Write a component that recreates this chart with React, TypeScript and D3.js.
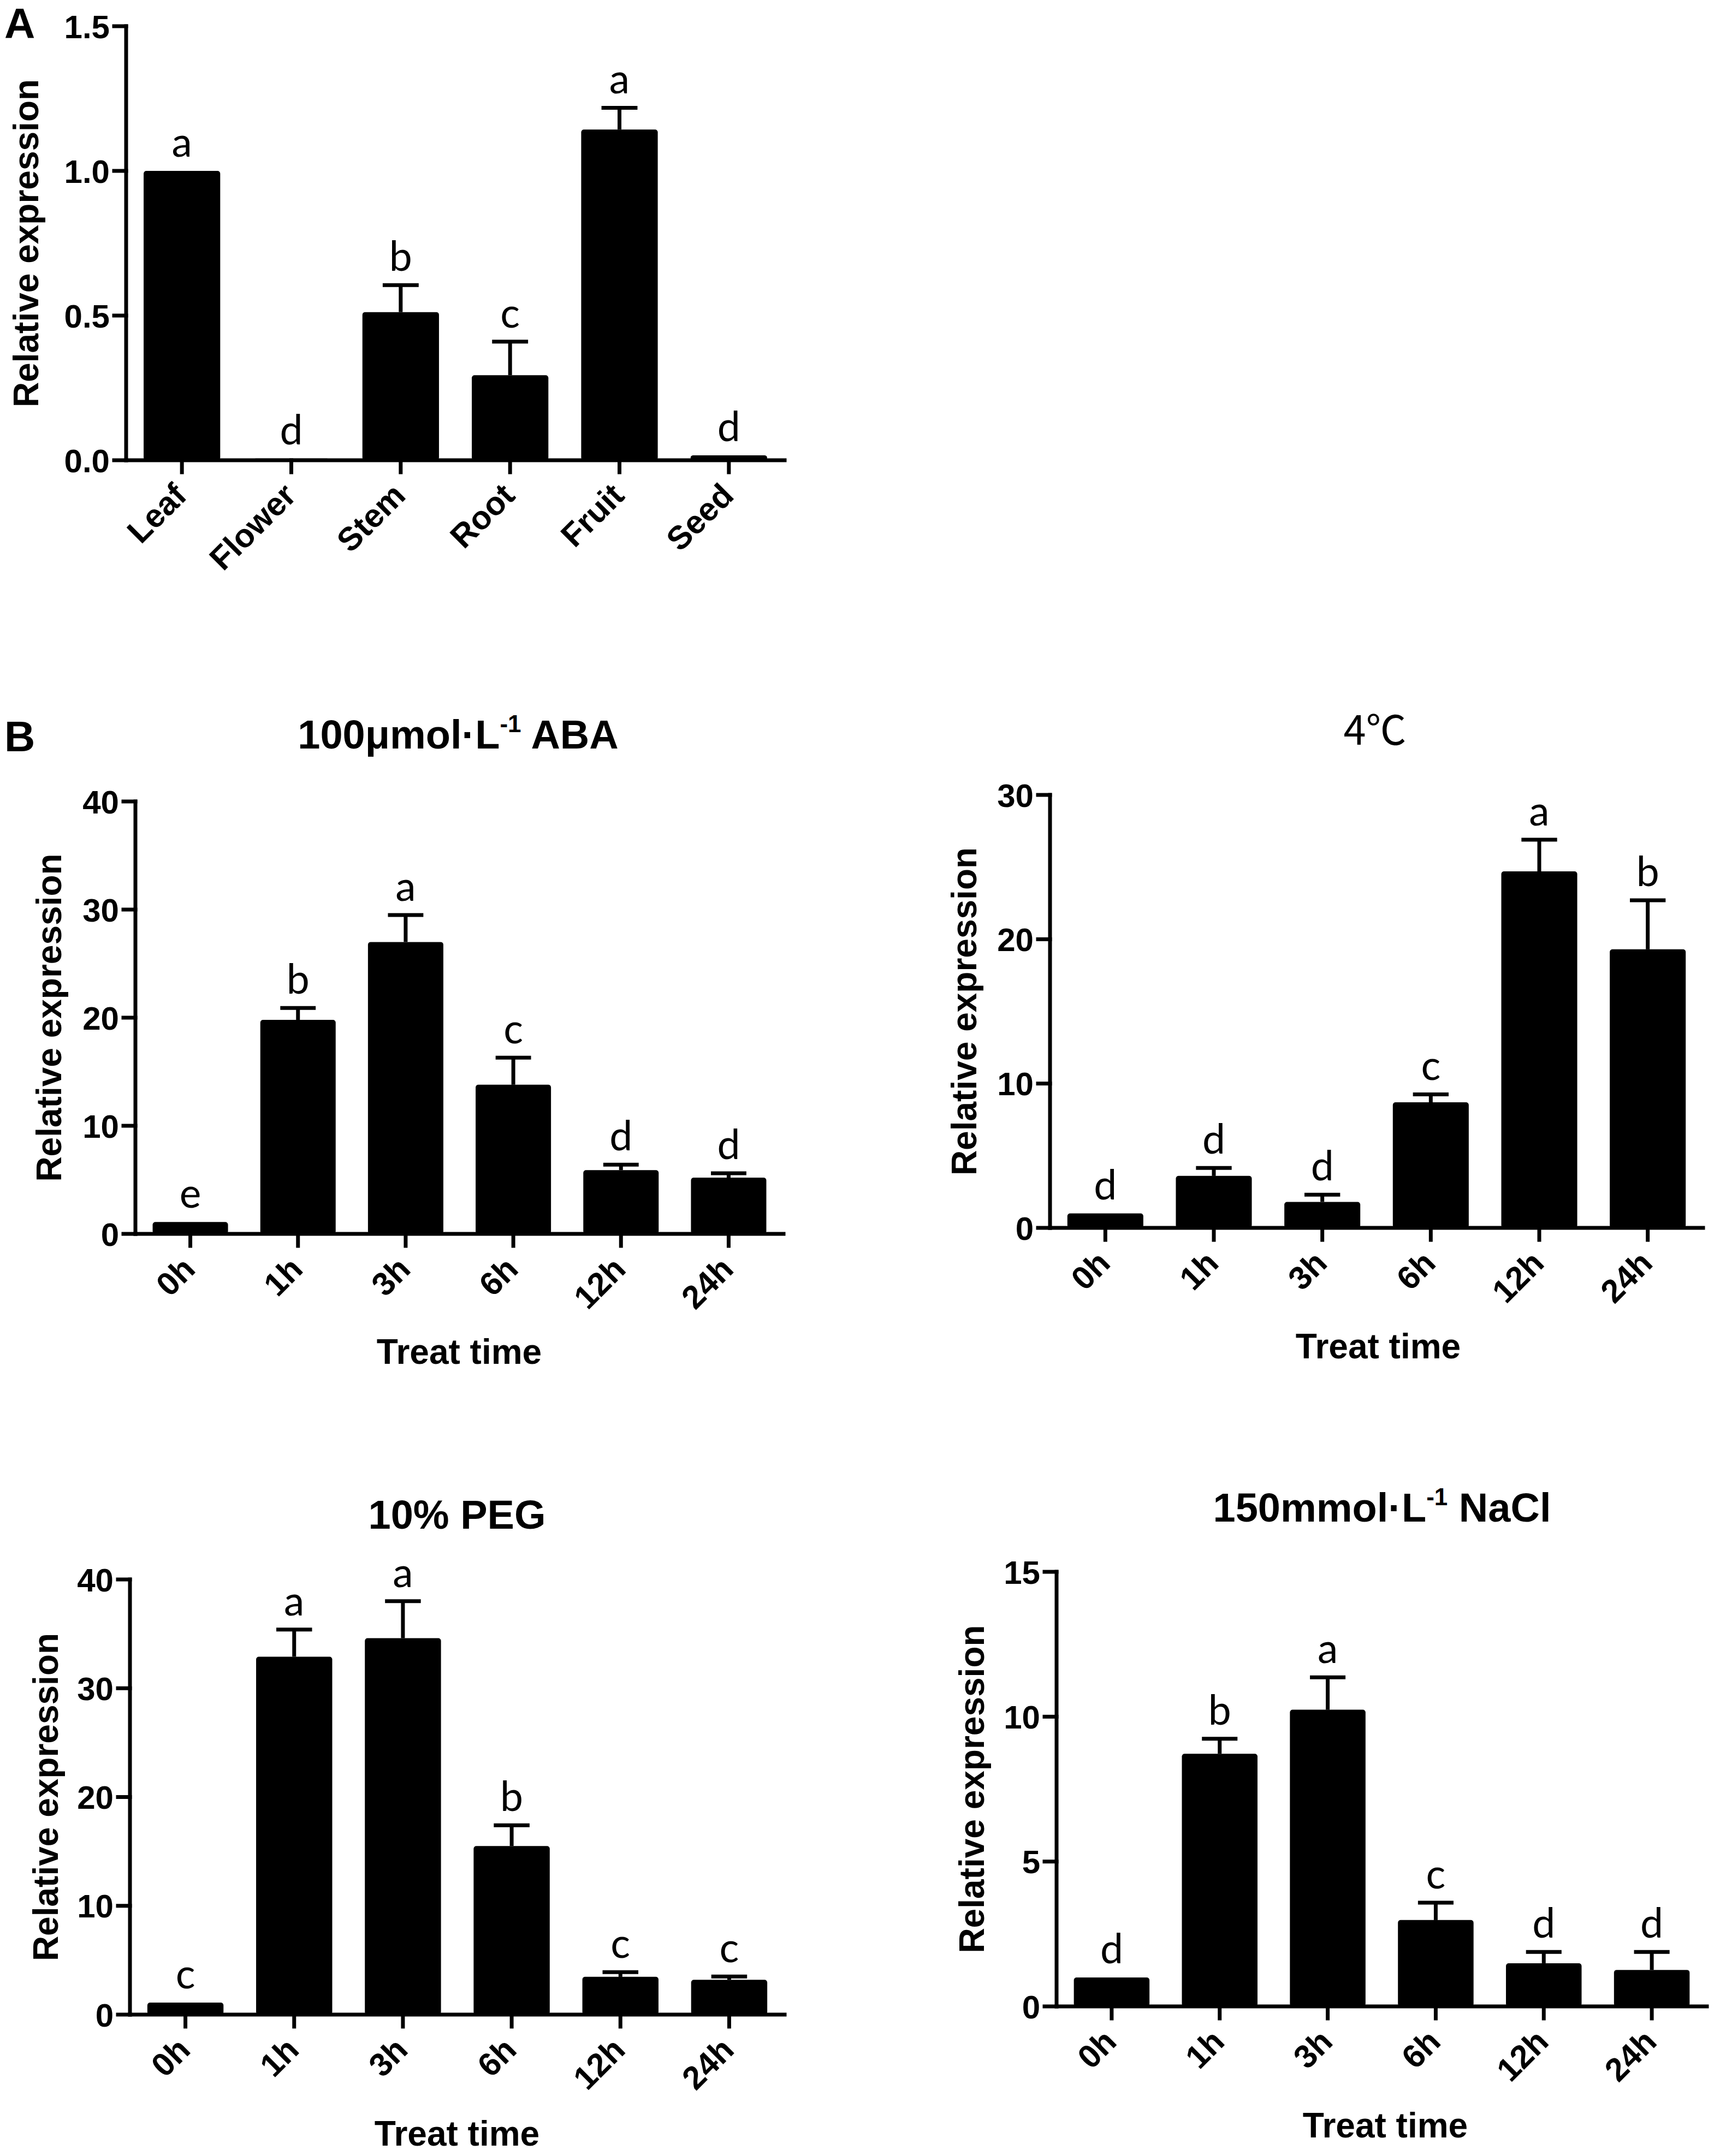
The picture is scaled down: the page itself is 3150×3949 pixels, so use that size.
import React from 'react';
import * as d3 from 'd3';

// Panel A: tissue expression
const tissues = ['Leaf', 'Flower', 'Stem', 'Root', 'Fruit', 'Seed'];
const tissueMean = [1.0, 0.006, 0.512, 0.294, 1.143, 0.017];
const tissueErr = [0, 0, 0.093, 0.116, 0.075, 0];
const tissueLetters = ['a', 'd', 'b', 'c', 'a', 'd'];
const tissueTicks = [0, 0.5, 1.0, 1.5];

// Panel B: treatment time courses
const times = ['0h', '1h', '3h', '6h', '12h', '24h'];

const abaMean = [1.1, 19.8, 27.0, 13.8, 5.9, 5.2];
const abaErr = [0, 1.1, 2.5, 2.5, 0.5, 0.4];
const abaLetters = ['e', 'b', 'a', 'c', 'd', 'd'];
const abaTicks = [0, 10, 20, 30, 40];

const coldMean = [1.0, 3.6, 1.8, 8.7, 24.7, 19.3];
const coldErr = [0, 0.55, 0.5, 0.55, 2.2, 3.4];
const coldLetters = ['d', 'd', 'd', 'c', 'a', 'b'];
const coldTicks = [0, 10, 20, 30];

const pegMean = [1.1, 32.9, 34.6, 15.5, 3.47, 3.2];
const pegErr = [0, 2.5, 3.4, 1.9, 0.43, 0.3];
const pegLetters = ['c', 'a', 'a', 'b', 'c', 'c'];
const pegTicks = [0, 10, 20, 30, 40];

const naclMean = [1.0, 8.72, 10.24, 2.98, 1.49, 1.26];
const naclErr = [0, 0.52, 1.12, 0.6, 0.39, 0.62];
const naclLetters = ['d', 'b', 'a', 'c', 'd', 'd'];
const naclTicks = [0, 5, 10, 15];

const ARIAL = '"Liberation Sans", Arial, sans-serif';
const LETTER_FONT = 'Lato, "Open Sans", sans-serif';
const SW = 7;

interface PanelProps {
  left: number;
  right: number;
  top: number;
  bottom: number;
  cats: string[];
  mean: number[];
  err: number[];
  letters: string[];
  ticks: number[];
  fmt: string;
  yLabelX: number;
  title?: React.ReactNode;
  titleX?: number;
  titleY?: number;
  xTitleX?: number;
  xTitleY?: number;
}

const Panel: React.FC<PanelProps> = (p) => {
  const x = d3.scaleBand<string>()
    .domain(p.cats)
    .range([p.left, p.right])
    .paddingInner(0.3)
    .paddingOuter(0.16);
  const y = d3.scaleLinear()
    .domain([0, p.ticks[p.ticks.length - 1]])
    .range([p.bottom, p.top]);
  const fmt = d3.format(p.fmt);
  const bw = x.bandwidth();
  const cap = bw * 0.47;

  return (
    <g>
      {/* bars */}
      {p.cats.map((c, i) => (
        <rect key={c} x={x(c)} y={y(p.mean[i])} width={bw}
          height={Math.max(y(0) - y(p.mean[i]), 0)} rx={5} fill="#000" />
      ))}
      {/* error bars, upper only */}
      {p.cats.map((c, i) => {
        if (!p.err[i]) return null;
        const cx = (x(c) as number) + bw / 2;
        const yt = y(p.mean[i] + p.err[i]);
        return (
          <g key={c} stroke="#000" strokeWidth={SW}>
            <line x1={cx} x2={cx} y1={y(p.mean[i])} y2={yt} />
            <line x1={cx - cap / 2} x2={cx + cap / 2} y1={yt} y2={yt} />
          </g>
        );
      })}
      {/* significance letters */}
      {p.cats.map((c, i) => (
        <text key={c} x={(x(c) as number) + bw / 2} y={y(p.mean[i] + p.err[i]) - 26}
          textAnchor="middle" fontFamily={LETTER_FONT} fontSize={75} fill="#000">
          {p.letters[i]}
        </text>
      ))}
      {/* axes */}
      <g stroke="#000" strokeWidth={SW} fill="none" strokeLinecap="square">
        <line x1={p.left} x2={p.left} y1={y(p.ticks[p.ticks.length - 1])} y2={p.bottom} />
        <line x1={p.left} x2={p.right} y1={p.bottom} y2={p.bottom} />
        {p.ticks.map((t) => (
          <line key={t} x1={p.left - 22} x2={p.left} y1={y(t)} y2={y(t)} />
        ))}
        {p.cats.map((c) => {
          const cx = (x(c) as number) + bw / 2;
          return <line key={c} x1={cx} x2={cx} y1={p.bottom} y2={p.bottom + 22} />;
        })}
      </g>
      {p.ticks.map((t) => (
        <text key={t} x={p.left - 30} y={y(t)} dy="0.36em" textAnchor="end"
          fontFamily={ARIAL} fontWeight="bold" fontSize={60} fill="#000">
          {fmt(t)}
        </text>
      ))}
      {p.cats.map((c) => {
        const cx = (x(c) as number) + bw / 2;
        return (
          <text key={c} transform={`translate(${cx + 12},${p.bottom + 68}) rotate(-45)`}
            textAnchor="end" fontFamily={ARIAL} fontWeight="bold" fontSize={60} fill="#000">
            {c}
          </text>
        );
      })}
      <text transform={`translate(${p.yLabelX},${(p.top + p.bottom) / 2}) rotate(-90)`}
        textAnchor="middle" fontFamily={ARIAL} fontWeight="bold" fontSize={64} fill="#000">
        Relative expression
      </text>
      {p.title && (
        <text x={p.titleX} y={p.titleY} textAnchor="middle" fontFamily={ARIAL}
          fontWeight="bold" fontSize={74} fill="#000">
          {p.title}
        </text>
      )}
      {p.xTitleY !== undefined && (
        <text x={p.xTitleX} y={p.xTitleY} textAnchor="middle" fontFamily={ARIAL}
          fontWeight="bold" fontSize={64} fill="#000">
          Treat time
        </text>
      )}
    </g>
  );
};

const perL = (pre: string, post: string) => (
  <>
    <tspan>{pre}</tspan>
    <tspan dy={-30} fontSize={44}>-1</tspan>
    <tspan dy={30}>{post}</tspan>
  </>
);

export default function App() {
  return (
    <svg width={3150} height={3949} viewBox="0 0 3150 3949"
      style={{ position: 'absolute', left: 0, top: 0, background: '#fff' }}>
      <rect width={3150} height={3949} fill="#fff" />
      <text x={8} y={70} fontFamily={ARIAL} fontWeight="bold" fontSize={78}>A</text>
      <text x={8} y={1376} fontFamily={ARIAL} fontWeight="bold" fontSize={78}>B</text>

      <Panel left={231} right={1437} top={48} bottom={843}
        cats={tissues} mean={tissueMean} err={tissueErr} letters={tissueLetters}
        ticks={tissueTicks} fmt=".1f" yLabelX={70} />

      <Panel left={248} right={1435} top={1468} bottom={2260}
        cats={times} mean={abaMean} err={abaErr} letters={abaLetters}
        ticks={abaTicks} fmt="d" yLabelX={112}
        title={perL('100μmol·L', ' ABA')} titleX={839} titleY={1371}
        xTitleX={841} xTitleY={2498} />

      <Panel left={1923} right={3119} top={1456} bottom={2249}
        cats={times} mean={coldMean} err={coldErr} letters={coldLetters}
        ticks={coldTicks} fmt="d" yLabelX={1788}
        xTitleX={2524} xTitleY={2488} />
      <text x={2518} y={1364} textAnchor="middle" fontFamily={'"Noto Sans CJK SC", sans-serif'}
        fontSize={74} fill="#000">4℃</text>

      <Panel left={238} right={1437} top={2893} bottom={3690}
        cats={times} mean={pegMean} err={pegErr} letters={pegLetters}
        ticks={pegTicks} fmt="d" yLabelX={106}
        title="10% PEG" titleX={837} titleY={2800}
        xTitleX={837} xTitleY={3930} />

      <Panel left={1935} right={3126} top={2879} bottom={3675}
        cats={times} mean={naclMean} err={naclErr} letters={naclLetters}
        ticks={naclTicks} fmt="d" yLabelX={1802}
        title={perL('150mmol·L', ' NaCl')} titleX={2531} titleY={2787}
        xTitleX={2537} xTitleY={3915} />
    </svg>
  );
}
